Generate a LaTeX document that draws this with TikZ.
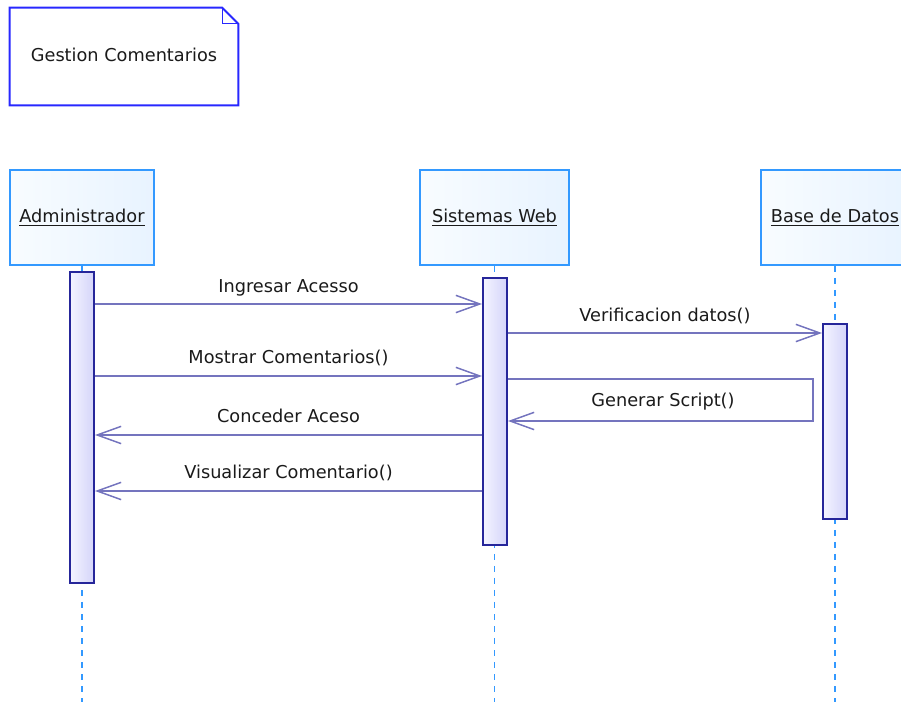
\documentclass[tikz,border=0pt]{standalone}
\usepackage{fontspec}
\setmainfont{DejaVu Sans}
\usetikzlibrary{arrows.meta}
\definecolor{seqBlue}{HTML}{3399FF}
\definecolor{seqHeadA}{HTML}{F8FCFF}
\definecolor{seqHeadB}{HTML}{E8F3FF}
\definecolor{seqNavy}{HTML}{26269A}
\definecolor{seqLilacA}{HTML}{F4F4FF}
\definecolor{seqLilacB}{HTML}{D4D4FA}
\definecolor{seqMsg}{HTML}{7474BE}
\definecolor{seqNote}{HTML}{2828FF}
\definecolor{seqText}{HTML}{1A1A1A}
\tikzset{
  seq head/.style={draw=seqBlue, line width=1.5pt, left color=seqHeadA, right color=seqHeadB, minimum height=71.25pt, inner sep=0pt, font=\fontsize{13.3}{16}\selectfont, text=seqText},
  seq life/.style={draw=seqBlue, line width=1.3pt, dash pattern=on 4.5pt off 4.5pt},
  seq act/.style={draw=seqNavy, line width=1.5pt, left color=seqLilacA, right color=seqLilacB, minimum width=18pt, inner sep=0pt},
  seq msg/.style={draw=seqMsg, line width=1.1pt, -{Straight Barb[length=18pt,width=13pt]}},
  seq label/.style={font=\fontsize{13.3}{16}\selectfont, text=seqText, text height=10pt, text depth=3pt, inner sep=0pt},
  seq note/.style={draw=seqNote, line width=1.5pt},
}
\begin{document}
\begin{tikzpicture}[x=0.75pt,y=-0.75pt]
  \useasboundingbox (0,0) rectangle (901,702);
  \coordinate (bottom) at (0,702);
  % note
  \node[seq label, minimum width=171pt, minimum height=72.75pt] (note) at (124,56.5) {Gestion Comentarios};
  \draw[seq note] (note.north west) -- ([xshift=-12pt]note.north east) -- ([yshift=-12pt]note.north east)
    -- (note.south east) -- (note.south west) -- cycle;
  \draw[seq note, line width=1pt] ([xshift=-12pt]note.north east) |- ([yshift=-12pt]note.north east);
  % lifeline heads
  \node[seq head, minimum width=108pt] (admin) at (82,217.5) {\underline{Administrador}};
  \node[seq head, minimum width=111.75pt] (web) at (494.5,217.5) {\underline{Sistemas Web}};
  \node[seq head, minimum width=111pt] (bd) at (835,217.5) {\underline{Base de Datos}};
  \draw[seq life] (admin.south) -- (admin.south |- bottom);
  \draw[seq life] (web.south) -- (web.south |- bottom);
  \draw[seq life] (bd.south) -- (bd.south |- bottom);
  % activations
  \node[seq act, minimum height=233.25pt] (actAdmin) at (82,427.5) {};
  \node[seq act, minimum height=200.25pt] (actWeb) at (495,411.5) {};
  \node[seq act, minimum height=146.25pt] (actBd) at (835,421.5) {};
  % messages
  \coordinate (m1) at (0,304);
  \coordinate (m2) at (0,333);
  \coordinate (m3) at (0,376);
  \coordinate (m4) at (813,379);
  \coordinate (m4r) at (813,421);
  \coordinate (m5) at (0,435);
  \coordinate (m6) at (0,491);
  \draw[seq msg] (actAdmin.east |- m1) -- (actWeb.west |- m1) node[midway, seq label, yshift=12pt] {Ingresar Acesso};
  \draw[seq msg] (actWeb.east |- m2) -- (actBd.west |- m2) node[midway, seq label, yshift=12pt] {Verificacion datos()};
  \draw[seq msg] (actAdmin.east |- m3) -- (actWeb.west |- m3) node[midway, seq label, yshift=13pt] {Mostrar Comentarios()};
  \draw[seq msg] (actWeb.east |- m4) -- (m4) -- (m4r) -- (actWeb.east |- m4r);
  \node[seq label] (gen) at (663,401.5) {Generar Script()};
  \draw[seq msg] (actWeb.west |- m5) -- (actAdmin.east |- m5) node[midway, seq label, yshift=12.5pt] {Conceder Aceso};
  \draw[seq msg] (actWeb.west |- m6) -- (actAdmin.east |- m6) node[midway, seq label, yshift=12.5pt] {Visualizar Comentario()};
\end{tikzpicture}
\end{document}
